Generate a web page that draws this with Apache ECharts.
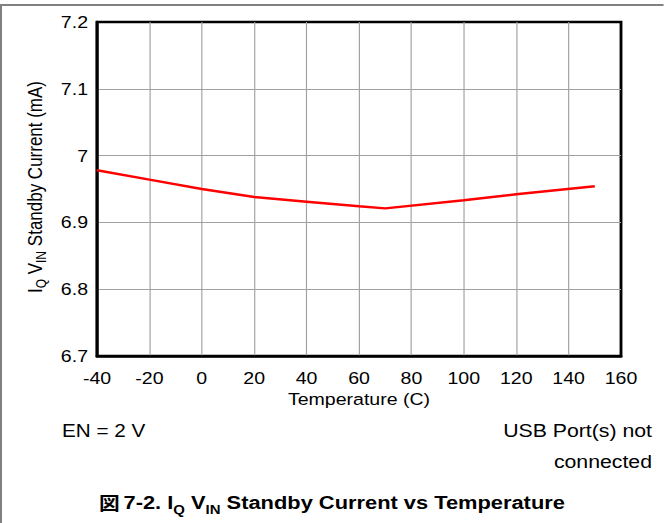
<!DOCTYPE html>
<html>
<head>
<meta charset="utf-8">
<script src="https://cdn.jsdelivr.net/npm/echarts@6/dist/echarts.min.js"></script>
<style>
html,body{margin:0;padding:0;background:#fff;overflow:hidden;}
#wrap{width:664px;height:523px;overflow:hidden;position:relative;}
#c{height:523px;transform-origin:0 0;position:absolute;left:0;top:0;}
</style>
</head>
<body>
<div id="wrap"><div id="c"></div></div>
<script>
// Data
var temperatures = [-40, -20, 0, 20, 40, 60, 70, 100, 120, 150];
var standbyCurrent = [6.978, 6.964, 6.950, 6.938, 6.931, 6.924, 6.921, 6.933, 6.942, 6.954];
var xTicks = {min: -40, max: 160, interval: 20};
var yTicks = {min: 6.7, max: 7.2, interval: 0.1};

// The reference figure is horizontally stretched; reproduce that by scaling the drawing.
var SX = 1.15;
var W = 664 / SX;
var el = document.getElementById('c');
el.style.width = W + 'px';
el.style.transform = 'scaleX(' + SX + ')';
function px(x) { return x / SX; }

var FONT = '"Liberation Sans", Arial, sans-serif';
var chart = echarts.init(el, null, {renderer: 'svg', width: W, height: 523});

var seriesData = temperatures.map(function (t, i) { return [t, standbyCurrent[i]]; });

chart.setOption({
  animation: false,
  backgroundColor: '#fff',
  grid: {left: px(97), top: 22, width: px(524), height: 334, show: true, borderColor: '#000', borderWidth: 2.5,
         backgroundColor: 'transparent', containLabel: false, outerBoundsMode: 'none'},
  xAxis: {
    type: 'value', min: xTicks.min, max: xTicks.max, interval: xTicks.interval,
    name: 'Temperature (C)', nameLocation: 'middle', nameGap: 32,
    nameTextStyle: {fontFamily: FONT, fontSize: 17, color: '#000'},
    axisLine: {show: true, onZero: false, lineStyle: {color: '#000', width: 2.5}},
    axisTick: {show: false},
    axisLabel: {fontFamily: FONT, fontSize: 17, color: '#000', margin: 13},
    splitLine: {show: true, showMinLine: false, showMaxLine: false, lineStyle: {color: '#a0a0a0', width: 1}}
  },
  yAxis: {
    type: 'value', min: yTicks.min, max: yTicks.max, interval: yTicks.interval,
    name: '{n|I}{s|Q}{n| V}{s|IN}{n| Standby Current (mA)}', nameLocation: 'middle', nameGap: px(49),
    nameTextStyle: {
      fontFamily: FONT, fontSize: 17, color: '#000', padding: [0, 0, 0, 4],
      rich: {
        n: {fontFamily: FONT, fontSize: 17, color: '#000', verticalAlign: 'bottom', lineHeight: 20},
        s: {fontFamily: FONT, fontSize: 12, color: '#000', verticalAlign: 'bottom', lineHeight: 14, padding: [0, 0, -3, 0]}
      }
    },
    axisLine: {show: true, onZero: false, lineStyle: {color: '#000', width: 2.5}},
    axisTick: {show: false},
    axisLabel: {fontFamily: FONT, fontSize: 17, color: '#000', margin: px(9)},
    splitLine: {show: true, showMinLine: false, showMaxLine: false, lineStyle: {color: '#a0a0a0', width: 1}}
  },
  series: [{
    type: 'line', data: seriesData, showSymbol: false, symbol: 'none',
    lineStyle: {color: '#ff0000', width: 2.5}, z: 5
  }],
  graphic: [
    {type: 'rect', shape: {x: 0, y: 4, width: W, height: 2}, style: {fill: '#808080'}, silent: true},
    {type: 'rect', shape: {x: 0, y: 4, width: px(2), height: 519}, style: {fill: '#808080'}, silent: true},
    {type: 'text', left: px(62), top: 421, style: {text: 'EN = 2 V', font: '18px ' + FONT, fill: '#000'}},
    {type: 'text', right: px(12), top: 421, style: {text: 'USB Port(s) not', font: '18.5px ' + FONT, fill: '#000', textAlign: 'right'}},
    {type: 'text', right: px(12), top: 452, style: {text: 'connected', font: '18.5px ' + FONT, fill: '#000', textAlign: 'right'}},
    {type: 'text', left: 'center', top: 493, style: {
      text: '{c|図} {b|7-2. I}{s|Q}{b| V}{s|IN}{b| Standby Current vs Temperature}',
      rich: {
        c: {fontFamily: '"Noto Sans CJK JP"', fontWeight: 'bold', fontSize: 18, fill: '#000', verticalAlign: 'bottom', lineHeight: 22},
        b: {fontFamily: FONT, fontWeight: 'bold', fontSize: 19, fill: '#000', verticalAlign: 'bottom', lineHeight: 22},
        s: {fontFamily: FONT, fontWeight: 'bold', fontSize: 13, fill: '#000', verticalAlign: 'bottom', lineHeight: 16, padding: [0, 0, -4, 0]}
      }
    }}
  ]
});
</script>
</body>
</html>
